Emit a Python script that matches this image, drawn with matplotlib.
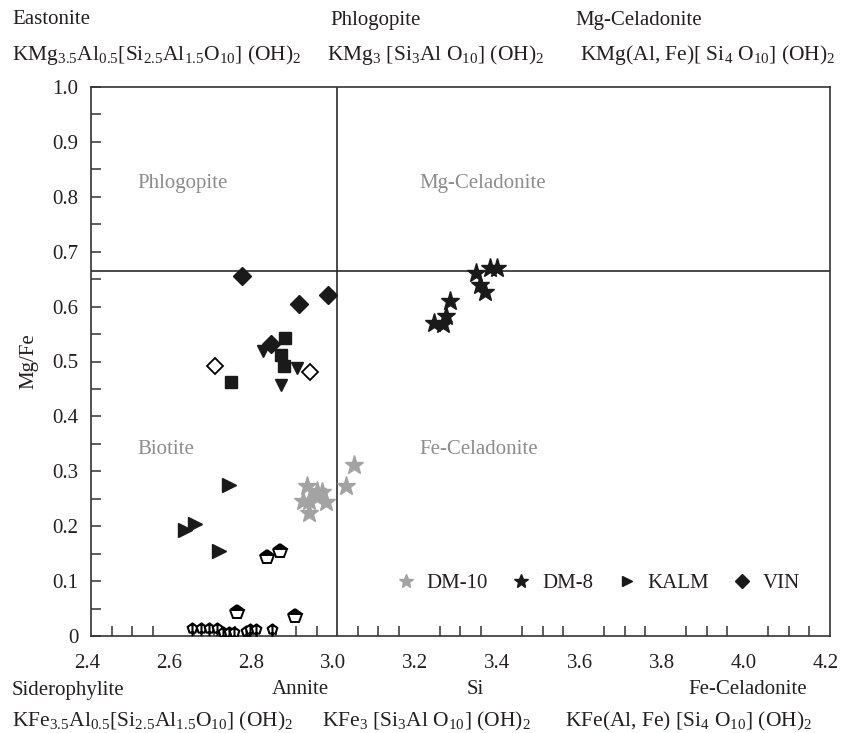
import matplotlib
matplotlib.use("Agg")
import matplotlib.pyplot as plt
import matplotlib.transforms as mtransforms
import numpy as np
from matplotlib.path import Path

plt.rcParams['font.family'] = ['Liberation Serif', 'DejaVu Serif']
plt.rcParams['mathtext.fontset'] = 'custom'
plt.rcParams['mathtext.rm'] = 'Liberation Serif'
plt.rcParams['mathtext.it'] = 'Liberation Serif'
plt.rcParams['mathtext.default'] = 'regular'

TXT = '#231f20'
GRAY = '#a3a3a3'

# ---- data ----
dm10_x = [3.041, 3.021, 2.927, 2.950, 2.962, 2.950, 2.917, 2.932, 2.972, 2.930]
dm10_y = [0.311, 0.274, 0.273, 0.265, 0.263, 0.254, 0.245, 0.245, 0.244, 0.224]

dm8_x = [3.235, 3.258, 3.264, 3.275, 3.337, 3.347, 3.359, 3.373, 3.390]
dm8_y = [0.571, 0.568, 0.583, 0.611, 0.662, 0.639, 0.627, 0.670, 0.670]

kalm_x = [2.736, 2.653, 2.628, 2.712]
kalm_y = [0.275, 0.204, 0.193, 0.155]

vin_x = [2.767, 2.907, 2.977, 2.838]
vin_y = [0.656, 0.604, 0.621, 0.531]

sq_x = [2.873, 2.863, 2.871, 2.742]
sq_y = [0.543, 0.512, 0.491, 0.463]

tri_x = [2.820, 2.902, 2.863]
tri_y = [0.519, 0.489, 0.458]

odia_x = [2.703, 2.933]
odia_y = [0.491, 0.481]

pent_hi_x = [2.829, 2.860, 2.756, 2.898]
pent_hi_y = [0.143, 0.154, 0.044, 0.037]

pent_lo_x = [2.647, 2.667, 2.687, 2.706, 2.721, 2.735, 2.749, 2.777, 2.787, 2.801, 2.841]
pent_lo_y = [0.014, 0.014, 0.014, 0.014, 0.008, 0.008, 0.008, 0.010, 0.012, 0.013, 0.012]

x_ticks = [2.4, 2.6, 2.8, 3.0, 3.2, 3.4, 3.6, 3.8, 4.0, 4.2]
y_ticks = [0, 0.1, 0.2, 0.3, 0.4, 0.5, 0.6, 0.7, 0.8, 0.9, 1.0]
y_ticklabels = ['0', '0.1', '0.2', '0.3', '0.4', '0.5', '0.6', '0.7', '0.8', '0.9', '1.0']

si_line = 3.0
mgfe_line = 0.665

W, H = 845, 733
fig = plt.figure(figsize=(W / 100, H / 100), dpi=100)
ax = fig.add_axes([91 / W, 1 - 636 / H, (830 - 91) / W, (636 - 87) / H])
ax.set_xlim(2.4, 4.2)
ax.set_ylim(0, 1.0)

# custom marker: pentagon with stem
pent = Path.unit_regular_polygon(5)
verts = list(pent.vertices) + [(0, 1.0), (0, -1.5)]
codes = list(pent.codes) + [Path.MOVETO, Path.LINETO]
stem_marker = Path(verts, codes)

ax.axvline(si_line, color='#2a2a2a', lw=1.2, zorder=1)
ax.axhline(mgfe_line, color='#2a2a2a', lw=1.2, zorder=1)

ax.plot(pent_lo_x, pent_lo_y, linestyle='none', marker=stem_marker, ms=11,
        mfc='white', mec='black', mew=1.5, zorder=3)
ax.plot(pent_hi_x, pent_hi_y, linestyle='none', marker='p', ms=10.5,
        fillstyle='top', mfc='black', mfcalt='white', mec='black', mew=1.4, zorder=3)
ax.plot(sq_x, sq_y, linestyle='none', marker='s', ms=8.5, color='#1a1a1a', zorder=3)
ax.plot(tri_x, tri_y, linestyle='none', marker='v', ms=9, color='#1a1a1a', zorder=3)
ax.plot(odia_x, odia_y, linestyle='none', marker='D', ms=8, mfc='white', mec='black', mew=1.3, zorder=3)

ax.plot(dm10_x, dm10_y, linestyle='none', marker='*', ms=14, color=GRAY, label='DM-10', zorder=4)
ax.plot(dm8_x, dm8_y, linestyle='none', marker='*', ms=14, color='#1a1a1a', label='DM-8', zorder=4)
ax.plot(kalm_x, kalm_y, linestyle='none', marker='>', ms=10, color='#1a1a1a', label='KALM', zorder=4)
ax.plot(vin_x, vin_y, linestyle='none', marker='D', ms=9.5, color='#1a1a1a', label='VIN', zorder=4)

leg = ax.legend(loc='center left', bbox_to_anchor=(0.412, 0.0965), ncol=4, frameon=False,
                fontsize=15, markerscale=0.75, handlelength=1.0, handletextpad=0.5,
                columnspacing=1.1, borderpad=0, borderaxespad=0)
for t in leg.get_texts():
    t.set_color(TXT)

# axes styling
for s in ax.spines.values():
    s.set_color('#333333')
    s.set_linewidth(1.2)
ax.set_xticks(x_ticks)
ax.set_xticklabels([f'{v:.1f}' for v in x_ticks])
ax.set_yticks(y_ticks)
ax.set_yticklabels(y_ticklabels)
ax.set_xticks(np.arange(2.45, 4.2, 0.05), minor=True)
ax.set_yticks(np.arange(0.05, 1.0, 0.05), minor=True)
ax.tick_params(which='both', direction='in', length=7, width=1.1, color='#333333',
               top=False, right=False)
ax.tick_params(which='major', labelsize=15, labelcolor=TXT)
ax.tick_params(axis='x', which='major', length=0, pad=13)
ax.tick_params(axis='y', which='major', length=7, pad=9)
ax.tick_params(axis='x', which='minor', length=7)
shift = mtransforms.ScaledTranslation(-4 / 100, 0, fig.dpi_scale_trans)
for lbl in ax.get_xticklabels():
    lbl.set_transform(lbl.get_transform() + shift)
ax.set_ylabel('Mg/Fe', fontsize=15, color=TXT, labelpad=10)

# region labels
ax.text(2.514, 0.825, 'Phlogopite', fontsize=15, color='#8c8c8c', va='center', ha='left')
ax.text(3.201, 0.825, 'Mg-Celadonite', fontsize=15, color='#8c8c8c', va='center', ha='left')
ax.text(2.514, 0.339, 'Biotite', fontsize=15, color='#8c8c8c', va='center', ha='left')
ax.text(3.201, 0.339, 'Fe-Celadonite', fontsize=15, color='#8c8c8c', va='center', ha='left')

def ftext(px, py, s, size=15, **kw):
    fig.text(px / W, 1 - py / H, s, fontsize=size, color=TXT, va='center', ha='left', **kw)

# top labels
ftext(12, 20, 'Eastonite')
ftext(330, 20, 'Phlogopite')
ftext(575, 20, 'Mg-Celadonite')
ftext(12, 55, r'KMg$_{3.5}$Al$_{0.5}$[Si$_{2.5}$Al$_{1.5}$O$_{10}$] (OH)$_{2}$', 15.5)
ftext(327, 55, r'KMg$_{3}$ [Si$_{3}$Al O$_{10}$] (OH)$_{2}$', 15.5)
ftext(580, 55, r'KMg(Al, Fe)[ Si$_{4}$ O$_{10}$] (OH)$_{2}$', 15.5)

# bottom labels
ftext(12, 690, 'Siderophylite')
ftext(272, 690, 'Annite')
ftext(467, 690, 'Si')
ftext(688, 690, 'Fe-Celadonite')
ftext(12, 721, r'KFe$_{3.5}$Al$_{0.5}$[Si$_{2.5}$Al$_{1.5}$O$_{10}$] (OH)$_{2}$', 15.5)
ftext(322, 721, r'KFe$_{3}$ [Si$_{3}$Al O$_{10}$] (OH)$_{2}$', 15.5)
ftext(565, 721, r'KFe(Al, Fe) [Si$_{4}$ O$_{10}$] (OH)$_{2}$', 15.5)

fig.savefig('out.png', dpi=100, facecolor='white')
